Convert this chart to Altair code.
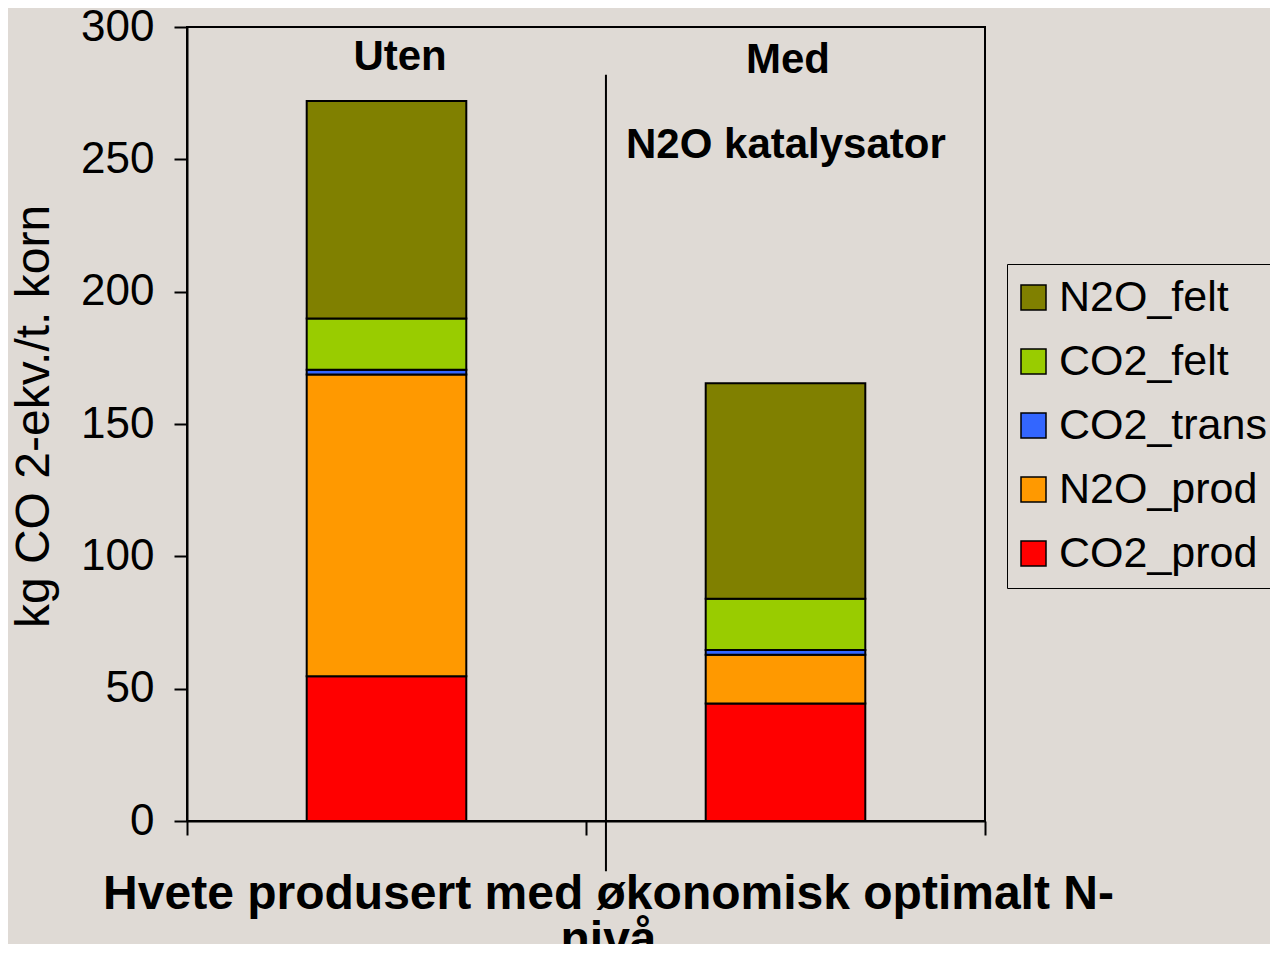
import altair as alt
import pandas as pd

# ---- data ----
components = ["CO2_prod", "N2O_prod", "CO2_trans", "CO2_felt", "N2O_felt"]
legend_order = ["N2O_felt", "CO2_felt", "CO2_trans", "N2O_prod", "CO2_prod"]
legend_colors = ["#808000", "#99CC00", "#3366FF", "#FF9900", "#FF0000"]
group_names = ["Uten", "Med"]
group_pos = [0.5, 1.5]
uten_values = [54.7, 114.0, 1.8, 19.4, 82.1]
med_values = [44.4, 18.4, 1.8, 19.4, 81.4]
y_ticks = [0, 50, 100, 150, 200, 250, 300]
x_ticks = [0, 1, 2]

annot_text = ["Uten", "Med", "N2O katalysator"]
annot_x = [0.534, 1.506, 1.501]
annot_y = [283.7, 282.6, 250.4]

divider_x = [1.05]
divider_top = [282.0]
divider_bottom = [-19.0]

x_title = ["Hvete produsert med økonomisk optimalt N-", "nivå"]
y_title = "kg CO 2-ekv./t. korn"

FONT = "Liberation Sans"
BG = "#DFDAD5"

rows = []
for gname, pos, vals in zip(group_names, group_pos, [uten_values, med_values]):
    for i, (c, v) in enumerate(zip(components, vals)):
        rows.append({"group": gname, "pos": pos, "component": c, "order": i, "value": v})
df = pd.DataFrame(rows)

x_scale = alt.Scale(domain=[0, 2], nice=False, zero=False)
y_scale = alt.Scale(domain=[0, 300], nice=False)

bars = (
    alt.Chart(df)
    .transform_stack(
        stack="value",
        groupby=["pos"],
        as_=["y0", "y1"],
        sort=[alt.SortField(field="order", order="ascending")],
    )
    .transform_calculate(xl="datum.pos - 0.2", xr="datum.pos + 0.2")
    .mark_bar(stroke="black", strokeWidth=2)
    .encode(
        x=alt.X(
            "xl:Q",
            scale=x_scale,
            axis=alt.Axis(
                values=x_ticks,
                labels=False,
                grid=False,
                ticks=True,
                tickSize=14,
                tickWidth=2,
                tickColor="black",
                domainColor="black",
                domainWidth=2,
                title=x_title,
                titleFont=FONT,
                titleFontSize=48,
                titleFontWeight="bold",
                titleColor="black",
                titleX=421,
                titleY=87,
                titleAlign="center",
                titleBaseline="alphabetic",
                titleLineHeight=46,
            ),
        ),
        x2="xr:Q",
        y=alt.Y(
            "y0:Q",
            scale=y_scale,
            axis=alt.Axis(
                values=y_ticks,
                grid=False,
                tickSize=13,
                tickWidth=2,
                tickColor="black",
                domainColor="black",
                domainWidth=2,
                labelFont=FONT,
                labelFontSize=44,
                labelColor="black",
                labelPadding=20,
                title=y_title,
                titleFont=FONT,
                titleFontSize=48,
                titleFontWeight="normal",
                titleColor="black",
                titleAngle=270,
                titleX=-139,
                titleY=389,
                titleAlign="center",
                titleBaseline="alphabetic",
            ),
        ),
        y2="y1:Q",
        color=alt.Color(
            "component:N",
            scale=alt.Scale(domain=legend_order, range=legend_colors),
            legend=alt.Legend(
                title=None,
                orient="none",
                legendX=820,
                legendY=237,
                padding=12,
                strokeColor="black",
                symbolType="square",
                symbolSize=625,
                symbolOffset=-7,
                symbolStrokeColor="black",
                symbolStrokeWidth=1.5,
                symbolOpacity=1,
                labelFont=FONT,
                labelFontSize=43,
                labelColor="black",
                labelOffset=4,
                labelLimit=500,
                rowPadding=20,
            ),
        ),
    )
)

annot_df = pd.DataFrame({"text": annot_text, "x": annot_x, "y": annot_y})
annots = (
    alt.Chart(annot_df)
    .mark_text(font=FONT, fontSize=42, fontWeight="bold", color="black",
               align="center", baseline="alphabetic")
    .encode(x=alt.X("x:Q", scale=x_scale), y=alt.Y("y:Q", scale=y_scale), text="text:N")
)

div_df = pd.DataFrame({"x": divider_x, "y": divider_top, "y2": divider_bottom})
divider = (
    alt.Chart(div_df)
    .mark_rule(color="black", strokeWidth=2)
    .encode(x=alt.X("x:Q", scale=x_scale), y=alt.Y("y:Q", scale=y_scale), y2="y2:Q")
)

chart = (
    alt.layer(bars, divider, annots)
    .properties(
        width=798,
        height=794,
        autosize=alt.AutoSizeParams(type="none"),
        padding={"left": 179, "top": 19, "right": 285, "bottom": 123},
        background=BG,
    )
    .configure_view(stroke="black", strokeWidth=2)
)

chart.save("out.html", embed_options={"renderer": "svg", "actions": False})
